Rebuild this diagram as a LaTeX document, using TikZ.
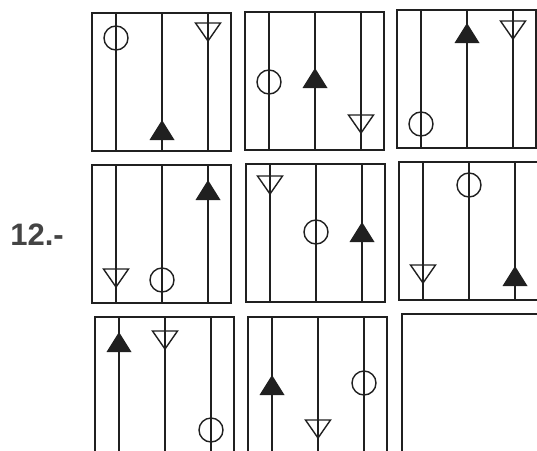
\documentclass[tikz,border=0pt]{standalone}
\usepackage{fontspec}
\newfontfamily\labelfont{Liberation Sans}
\usepackage{tikz}
\definecolor{ink}{HTML}{202020}
\definecolor{labelgray}{HTML}{444444}
\tikzset{
  frame/.style={draw=ink, line width=1.6pt},
  ring/.pic={\draw[ink, line width=1.4pt] (0,0) circle[radius=12pt];},
  uptri/.pic={\fill[ink] (0,-10) -- (12.5,10) -- (-12.5,10) -- cycle;},
  downtri/.pic={\draw[ink, line width=1.4pt, line join=miter] (-12.5,-9) -- (12.5,-9) -- (0,9) -- cycle;}
}
% one panel: frame and its three vertical lines, top-left corner given
\newcommand{\cellbox}[2]{%
  \draw[frame] (#1,#2) rectangle ++(139,138);
  \foreach \dx in {24,70,116} \draw[frame] (#1+\dx,#2) -- ++(0,138);
}
\begin{document}
\begin{tikzpicture}[x=1pt, y=-1pt]
\useasboundingbox[fill=white] (0,0) rectangle (537,450);
\clip (0,0) rectangle (537,450);
\node[labelgray, font=\labelfont\bfseries\fontsize{31}{31}\selectfont] (num) at (37,235) {12.-};
% row 1
\cellbox{92}{13}
\pic at (116,38) {ring};
\pic at (162,130) {uptri};
\pic at (208,32) {downtri};
\cellbox{245}{12}
\pic at (269,82) {ring};
\pic at (315,78) {uptri};
\pic at (361,124) {downtri};
\cellbox{397}{10}
\pic at (421,124) {ring};
\pic at (467,33) {uptri};
\pic at (513,30) {downtri};
% row 2
\cellbox{92}{165}
\pic at (116,278) {downtri};
\pic at (162,280) {ring};
\pic at (208,190) {uptri};
\cellbox{246}{164}
\pic at (270,185) {downtri};
\pic at (316,232) {ring};
\pic at (362,232) {uptri};
\cellbox{399}{162}
\pic at (423,274) {downtri};
\pic at (469,185) {ring};
\pic at (515,276) {uptri};
% row 3
\cellbox{95}{317}
\pic at (119,342) {uptri};
\pic at (165,340) {downtri};
\pic at (211,430) {ring};
\cellbox{248}{317}
\pic at (272,385) {uptri};
\pic at (318,429) {downtri};
\pic at (364,383) {ring};
% empty answer panel
\draw[frame] (402,314) rectangle ++(139,138);
\end{tikzpicture}
\end{document}
